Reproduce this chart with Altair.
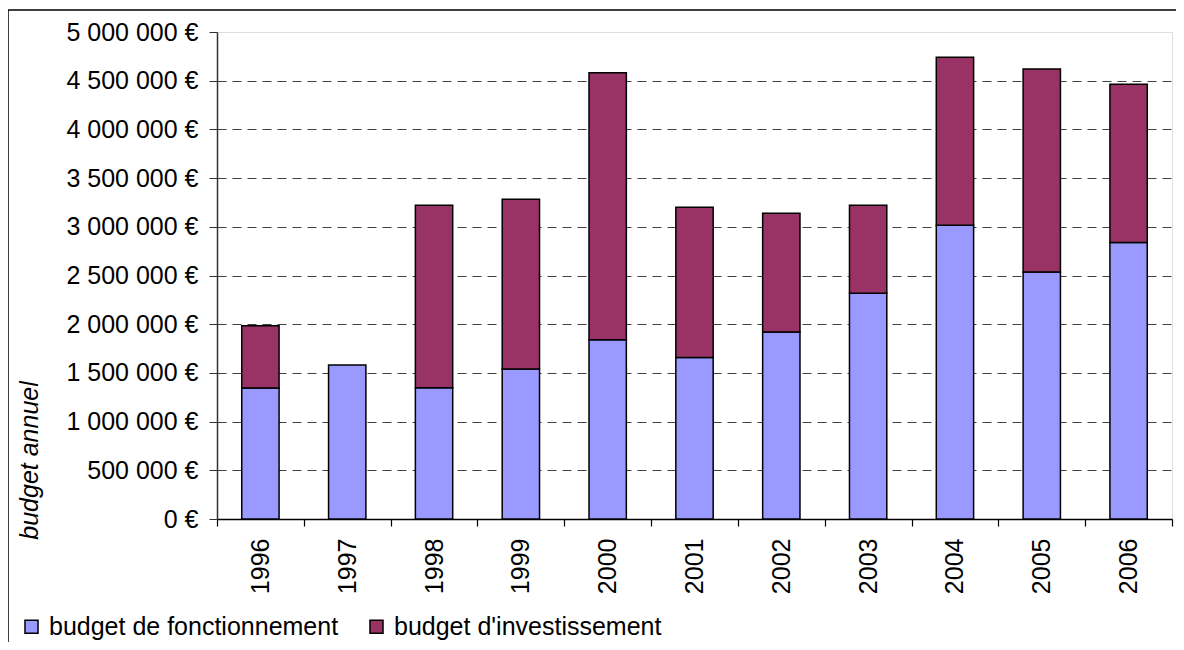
import altair as alt
import pandas as pd

years = ["1996", "1997", "1998", "1999", "2000", "2001", "2002", "2003", "2004", "2005", "2006"]
fonctionnement = [1344000, 1580000, 1347000, 1539000, 1840000, 1658000, 1919000, 2319000, 3017000, 2537000, 2838000]
investissement = [639000, 0, 1875000, 1745000, 2742000, 1543000, 1221000, 903000, 1723000, 2083000, 1625000]
series = ["budget de fonctionnement", "budget d'investissement"]
colors = ["#9999FF", "#993366"]
y_ticks = [0, 500000, 1000000, 1500000, 2000000, 2500000, 3000000, 3500000, 4000000, 4500000, 5000000]

rows = []
for i, y in enumerate(years):
    rows.append({"annee": y, "serie": series[0], "valeur": fonctionnement[i], "ordre": 0})
    if investissement[i] > 0:
        rows.append({"annee": y, "serie": series[1], "valeur": investissement[i], "ordre": 1})
df = pd.DataFrame(rows)

FONT = "Liberation Sans"
FS = 25

bars = alt.Chart(df).mark_bar(
    width=alt.RelativeBandSize(0.43), stroke="black", strokeWidth=1.5
).encode(
    x=alt.X("annee:N", sort=years, title=None,
            scale=alt.Scale(paddingInner=0, paddingOuter=0),
            axis=alt.Axis(labelAngle=-90, labelFont=FONT, labelFontSize=FS, labelColor="black",
                          labelPadding=12, tickBand="extent", tickSize=7, tickColor="black",
                          domainColor="black", domainWidth=1.5, tickWidth=1.2, grid=False,
                          labelBaseline="middle", labelAlign="right")),
    y=alt.Y("valeur:Q", stack="zero", title="budget annuel",
            scale=alt.Scale(domain=[0, 5000000], nice=False),
            axis=alt.Axis(values=y_ticks, format="$,d", labelFont=FONT, labelFontSize=FS,
                          labelColor="black", tickSize=8, labelPadding=11, tickColor="#333",
                          domainColor="#333", domainWidth=1.5,
                          grid=True, gridDash=[9, 6], gridColor="#404040", gridWidth=1,
                          gridOpacity={"condition": {"test": "datum.value >= 5000000", "value": 0}, "value": 1},
                          titleFont=FONT, titleFontSize=FS, titleFontStyle="italic",
                          titleFontWeight="normal", titleColor="black", titleAngle=-90,
                          titleX=-180, titleY=428, titleBaseline="alphabetic", titleAlign="center")),
    color=alt.Color("serie:N", scale=alt.Scale(domain=series, range=colors),
                    legend=alt.Legend(title=None, orient="none", direction="horizontal",
                                      legendX=-198, legendY=582, symbolType="square",
                                      symbolSize=170, symbolStrokeColor="black", symbolStrokeWidth=1.5,
                                      labelFont=FONT, labelFontSize=FS, labelColor="black",
                                      labelOffset=5, columnPadding=25, labelLimit=0)),
    order=alt.Order("ordre:Q"),
)

frame = alt.Chart(alt.Data(values=[{"a": 1}])).mark_rect(
    fillOpacity=0, stroke="black", strokeWidth=1.5, clip=False
).encode(
    x=alt.value(-209), x2=alt.value(1000), y=alt.value(-22), y2=alt.value(700)
)

chart = alt.layer(frame, bars).properties(
    width=955, height=487,
    autosize=alt.AutoSizeParams(type="none"),
    padding={"left": 209, "top": 24, "right": 4, "bottom": 123},
).configure_view(
    stroke="#808080", strokeWidth=1.5
).configure(
    locale={"number": {"decimal": ",", "thousands": " ", "grouping": [3], "currency": ["", " €"]}}
)

chart.save("out.html", embed_options={"renderer": "svg", "actions": False})
